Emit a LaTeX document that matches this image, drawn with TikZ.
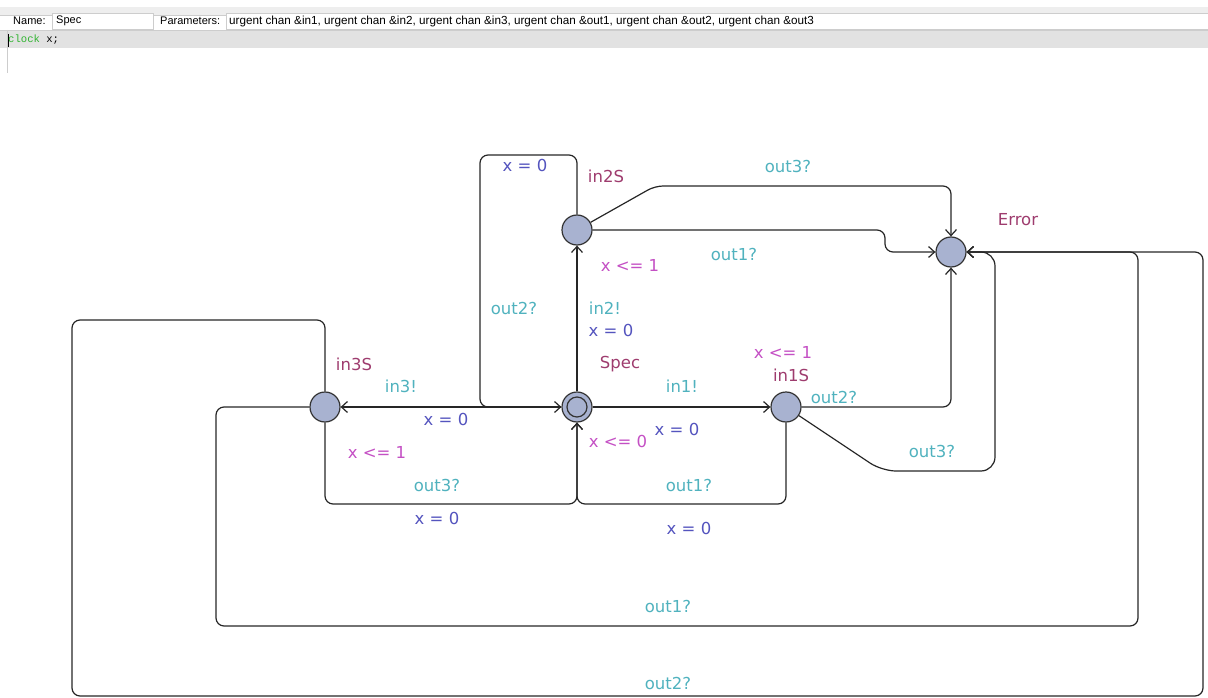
\documentclass[tikz,border=0pt]{standalone}
\usepackage{fontspec}
\setmainfont{DejaVu Sans}
\newfontfamily\hdrfont{Liberation Sans}
\newfontfamily\codefont{Liberation Mono}
\usetikzlibrary{arrows.meta}
\definecolor{locfill}{RGB}{168,178,208}
\definecolor{lnamec}{RGB}{158,60,110}
\definecolor{invc}{RGB}{196,80,196}
\definecolor{sync}{RGB}{80,178,190}
\definecolor{updc}{RGB}{84,84,190}
\definecolor{cgreen}{RGB}{50,180,50}
\definecolor{bandA}{RGB}{238,238,238}
\definecolor{bandB}{RGB}{226,226,226}
\definecolor{fieldb}{RGB}{205,205,205}
\tikzset{
  loc/.style={circle, draw=black!80, fill=locfill, minimum size=30pt, inner sep=0pt, line width=1.2pt},
  edge/.style={draw=black!85, line width=1.2pt, rounded corners=8pt, -{Straight Barb[length=6pt,width=11pt]}},
  lab/.style={inner sep=0pt, font=\fontsize{16.5}{18}\selectfont},
  lname/.style={lab, text=lnamec},
  inv/.style={lab, text=invc},
  syn/.style={lab, text=sync},
  upd/.style={lab, text=updc},
  hdr/.style={inner sep=0pt, anchor=west, font=\hdrfont\fontsize{11}{13}\selectfont},
  field/.style={draw=fieldb, fill=white, anchor=north west, inner sep=0pt, minimum height=16pt}
}
\begin{document}
\begin{tikzpicture}[x=1pt,y=-1pt]
\useasboundingbox (0,0) rectangle (1208,698);
% header
\fill[bandA] (0,7) rectangle (1208,15);
\draw[fieldb] (0,15) -- (1208,15);
\node[field, minimum width=101pt] (namefield) at (52,13) {};
\node[field, minimum width=990pt] (parfield) at (226,13) {};
\node[hdr] (namelbl) at (13,21) {Name:};
\node[hdr] (nameval) at (56,21) {Spec};
\node[hdr] (parlbl) at (160,21) {Parameters:};
\node[hdr, font=\hdrfont\fontsize{11.7}{13}\selectfont] (parval) at (229,21) {urgent chan \&in1, urgent chan \&in2, urgent chan \&in3, urgent chan \&out1, urgent chan \&out2, urgent chan \&out3};
\fill[bandB] (0,30) rectangle (1208,48);
\draw[fieldb] (0,30) -- (1208,30);
\draw[fieldb] (7,30) -- (7,73);
\node[inner sep=0pt, anchor=west, font=\codefont\fontsize{10.6}{12}\selectfont] (decl) at (8,40) {\textcolor{cgreen}{clock} x;};
\draw[black, line width=1pt] (8,34) -- (8,47);

% locations
\node[loc] (in2S) at (577,230) {};
\node[loc] (Error) at (951,252) {};
\node[loc] (Spec) at (577,407) {};
\draw[black!80, line width=1.2pt] (Spec) circle (10pt);
\node[loc] (in1S) at (786,407) {};
\node[loc] (in3S) at (325,407) {};

% edges
\draw[edge] (Spec) -- (in2S);
\draw[edge] (in2S.north) -- (577,155) -- (480,155) -- (480,407) -- (Spec.west);
\draw[edge] (in2S) -- (655,186) -- (951,186) -- (Error.north);
\draw[edge] (in2S.east) -- (885,230) -- (885,252) -- (Error.west);
\draw[edge] (Spec) -- (in1S);
\draw[edge] (in1S.south) -- (786,504) -- (577,504) -- (Spec.south);
\draw[edge] (in3S.south) -- (325,504) -- (577,504) -- (Spec.south);
\draw[edge] (Spec) -- (in3S);
\draw[edge] (in1S.east) -- (951,407) -- (Error.south);
\draw[edge, rounded corners=14pt] (in1S) -- (882,471) -- (995,471) -- (995,252) -- (Error.east);
\draw[edge] (in3S.west) -- (216,407) -- (216,626) -- (1138,626) -- (1138,252) -- (Error.east);
\draw[edge] (in3S.north) -- (325,320) -- (72,320) -- (72,696) -- (1203,696) -- (1203,252) -- (Error.east);

% labels
\node[upd] (u1) at (525,165) {x = 0};
\node[lname] (n2) at (606,176) {in2S};
\node[syn] (s1) at (788,166) {out3?};
\node[lname] (ne) at (1018,220) {Error};
\node[syn] (s2) at (734,254) {out1?};
\node[inv] (i2) at (630,265) {x <= 1};
\node[syn] (s3) at (514,308) {out2?};
\node[syn] (s4) at (605,308) {in2!};
\node[upd] (u2) at (611,330) {x = 0};
\node[lname] (ns) at (620,364) {Spec};
\node[lname] (n3) at (354,364) {in3S};
\node[syn] (s5) at (401,386) {in3!};
\node[upd] (u3) at (446,419) {x = 0};
\node[inv] (i3) at (377,452) {x <= 1};
\node[inv] (is) at (618,441) {x <= 0};
\node[upd] (u4) at (677,429) {x = 0};
\node[syn] (s6) at (682,386) {in1!};
\node[inv] (i1) at (783,352) {x <= 1};
\node[lname] (n1) at (791,375) {in1S};
\node[syn] (s7) at (834,397) {out2?};
\node[syn] (s8) at (932,451) {out3?};
\node[syn] (s9) at (437,485) {out3?};
\node[upd] (u5) at (437,518) {x = 0};
\node[syn] (s10) at (689,485) {out1?};
\node[upd] (u6) at (689,528) {x = 0};
\node[syn] (s11) at (668,606) {out1?};
\node[syn] (s12) at (668,683) {out2?};
\end{tikzpicture}
\end{document}
